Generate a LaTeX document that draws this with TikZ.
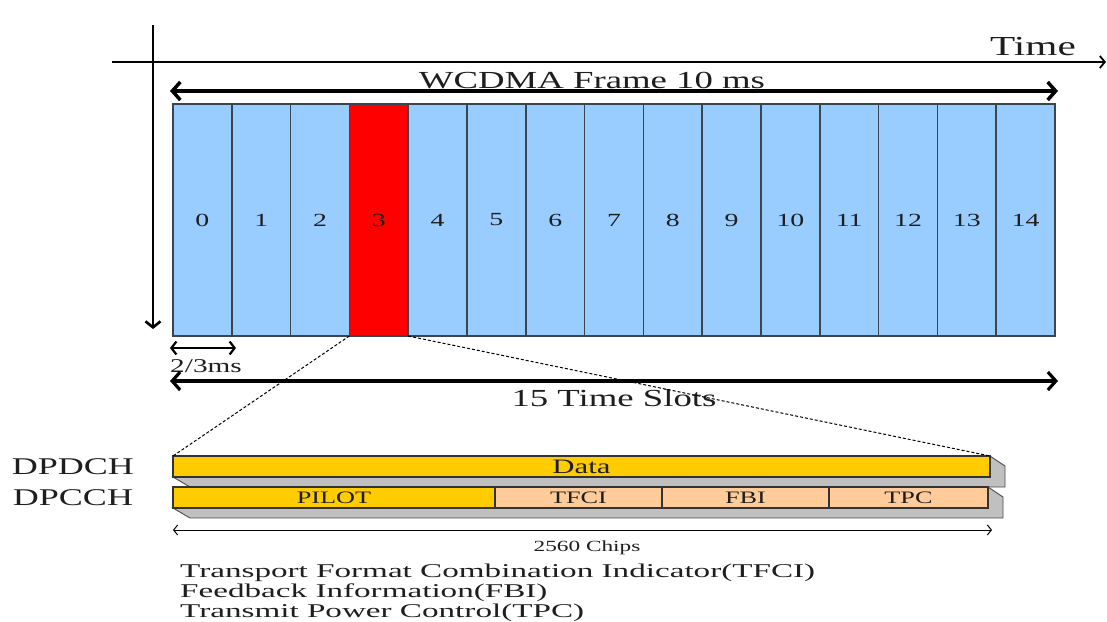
\documentclass[tikz,border=0pt]{standalone}
\usepackage{fontspec}
\setmainfont[FakeStretch=1.5]{Liberation Serif}
\newfontfamily\legendfont[FakeStretch=1.7]{Liberation Serif}
\usetikzlibrary{arrows.meta}
\definecolor{slotblue}{HTML}{99CCFF}
\definecolor{slotedge}{HTML}{3A4552}
\definecolor{baryellow}{HTML}{FFCC00}
\definecolor{barorange}{HTML}{FFCC99}
\definecolor{shadowgray}{HTML}{C0C0C0}
\definecolor{txt}{HTML}{1E1E1E}
\tikzset{
  slot/.style={draw=slotedge, line width=1.6pt, fill=slotblue, minimum width=58.8pt, minimum height=232pt, inner sep=0pt, outer sep=0pt, text=txt, font=\fontsize{18.5}{20}\selectfont},
  barseg/.style={draw=black!80, line width=1.2pt, minimum height=21pt, inner sep=0pt, outer sep=0pt, text=txt, font=\fontsize{17.5}{19}\selectfont},
  shadow/.style={fill=shadowgray, draw=black!70, line width=0.9pt},
  bigarrow/.style={line width=3.5pt, {Straight Barb[length=8pt,width=18pt]}-{Straight Barb[length=8pt,width=18pt]}},
  axis/.style={line width=2.6pt},
  lbl/.style={text=txt, inner sep=0pt, anchor=base},
  legend/.style={lbl, anchor=base west, font=\legendfont\fontsize{19.5}{20}\selectfont},
  zoomline/.style={dashed, line width=1pt, dash pattern=on 3pt off 2pt}
}
\begin{document}
\begin{tikzpicture}[x=1pt,y=-1pt]
\useasboundingbox (0,0) rectangle (1107,621);
\fill[white] (0,0) rectangle (1107,621);

% axes
\coordinate (vtop) at (153,25);
\coordinate (vbot) at (153,329);
\coordinate (hleft) at (112,62);
\coordinate (hright) at (1106,62);
\draw[axis, -{Straight Barb[length=6pt,width=15pt]}] (vtop) -- (vbot);
\draw[line width=1.8pt, -{Straight Barb[length=5pt,width=12pt]}] (hleft) -- (hright);
\node[lbl, font=\fontsize{27.5}{30}\selectfont] (time) at (1033,55) {Time};

% frame arrow
\coordinate (fl) at (170,91);
\coordinate (fr) at (1058,91);
\draw[bigarrow] (fl) -- (fr);
\node[lbl, font=\fontsize{24.5}{26}\selectfont] (frame) at (592,88) {WCDMA Frame 10 ms};

% slots
\foreach \i in {0,1,2,4,5,6,7,8,9,10,11,12,13,14} {
  \pgfmathsetmacro\xc{173+58.8*\i+29.4}
  \node[slot] (s\i) at (\xc,220) {\i};
}
\node[slot, fill=red] (s3) at (378.8,220) {3};

% 2/3 ms
\coordinate (tl) at (170,348);
\coordinate (tr) at (236,348);
\draw[line width=2.2pt, {Straight Barb[length=5pt,width=13pt]}-{Straight Barb[length=5pt,width=13pt]}] (tl) -- (tr);
\node[lbl, font=\fontsize{19.5}{21}\selectfont] (twothird) at (206,372) {2/3ms};

% 15 slots arrow
\coordinate (sl) at (170,381);
\coordinate (sr) at (1058,381);
\draw[bigarrow, line width=3.2pt] (sl) -- (sr);
\node[lbl, font=\fontsize{24.5}{26}\selectfont] (fifteen) at (614,406) {15 Time Slots};

% shadows
\draw[shadow] (173,477) -- (990,477) -- (990,456) -- (1005,466) -- (1005,487) -- (190,487) -- cycle;
\draw[shadow] (173,508) -- (988,508) -- (988,487) -- (1003,497) -- (1003,518) -- (190,518) -- cycle;

% DPDCH bar
\node[barseg, fill=baryellow, minimum width=817pt, font=\fontsize{20.5}{22}\selectfont] (data) at (581.5,466.5) {Data};
% DPCCH bar
\node[barseg, fill=baryellow, minimum width=322pt] (pilot) at (334,497.5) {PILOT};
\node[barseg, fill=barorange, minimum width=167pt] (tfci) at (578.5,497.5) {TFCI};
\node[barseg, fill=barorange, minimum width=167pt] (fbi) at (745.5,497.5) {FBI};
\node[barseg, fill=barorange, minimum width=159pt] (tpc) at (908.5,497.5) {TPC};

% zoom lines
\draw[zoomline] (s3.south west) -- (data.north west);
\draw[zoomline] (s3.south east) -- (data.north east);

% channel labels
\node[lbl, font=\fontsize{24}{26}\selectfont] (dpdch) at (73,474) {DPDCH};
\node[lbl, font=\fontsize{24}{26}\selectfont] (dpcch) at (73,505) {DPCCH};

% chips arrow
\coordinate (cl) at (173,530);
\coordinate (cr) at (992,530);
\draw[line width=1pt, {Straight Barb[length=4pt,width=10pt]}-{Straight Barb[length=4pt,width=10pt]}] (cl) -- (cr);
\node[lbl, font=\fontsize{15.5}{17}\selectfont] (chips) at (587,551) {2560 Chips};

% legend
\node[legend] (l1) at (180,577) {Transport Format Combination Indicator(TFCI)};
\node[legend] (l2) at (180,597) {Feedback Information(FBI)};
\node[legend] (l3) at (180,617) {Transmit Power Control(TPC)};
\end{tikzpicture}
\end{document}
